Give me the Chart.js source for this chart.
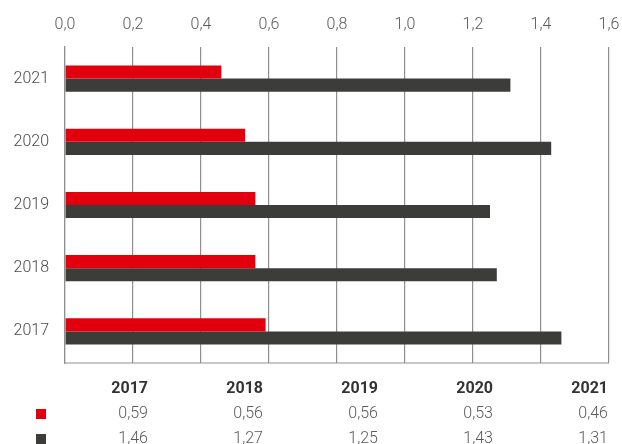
<!DOCTYPE html>
<html>
<head>
  <meta charset="utf-8" />
  <title>Kennzahl 2017–2021</title>
  <script src="https://cdn.jsdelivr.net/npm/chart.js"></script>
  <style>
    html, body { margin: 0; padding: 0; background: #fff; }
    #wrap { position: relative; width: 622px; height: 444px; overflow: hidden; }
    #chart { position: absolute; left: 0; top: 0; }
    #values { position: absolute; left: 0; top: 375px; border-collapse: collapse; table-layout: fixed;
      font-family: Roboto, "Liberation Sans", sans-serif; font-size: 16px; color: #5a5a5a; }
    #values td, #values th { padding: 0; height: 25px; line-height: 25px; text-align: right; }
    #values th { font-weight: 700; color: #333; }
    #values td { font-weight: 300; }
    .mark { display: inline-block; width: 10px; height: 10px; margin-left: 36px; vertical-align: middle; }
  </style>
</head>
<body>
<div id="wrap">
  <canvas id="chart" width="622" height="444"></canvas>
  <table id="values"></table>
</div>
<script>
const years = ['2017', '2018', '2019', '2020', '2021'];
const redValues = [0.59, 0.56, 0.56, 0.53, 0.46];
const greyValues = [1.46, 1.27, 1.25, 1.43, 1.31];
const xTicks = [0, 0.2, 0.4, 0.6, 0.8, 1.0, 1.2, 1.4, 1.6];

const RED = '#e2000f';
const GREY = '#3c3c3b';
const GRID = '#8f8f8f';
const FONT = 'Roboto, "Liberation Sans", sans-serif';

const fmt = (v, d) => v.toFixed(d).replace('.', ',');

// bottom edge of the plot area
const bottomLine = {
  id: 'bottomLine',
  afterDraw(chart) {
    const { ctx, chartArea } = chart;
    ctx.save();
    ctx.strokeStyle = GRID;
    ctx.lineWidth = 1.2;
    ctx.beginPath();
    ctx.moveTo(chartArea.left, chartArea.bottom);
    ctx.lineTo(chartArea.right, chartArea.bottom);
    ctx.stroke();
    ctx.restore();
  }
};

new Chart(document.getElementById('chart'), {
  type: 'bar',
  data: {
    labels: years.slice().reverse(),
    datasets: [
      { data: redValues.slice().reverse(), backgroundColor: RED },
      { data: greyValues.slice().reverse(), backgroundColor: GREY }
    ]
  },
  options: {
    indexAxis: 'y',
    responsive: false,
    animation: false,
    datasets: { bar: { categoryPercentage: 0.415, barPercentage: 1 } },
    layout: { padding: { left: 0, top: 0, right: 13, bottom: 81 } },
    plugins: { legend: { display: false }, tooltip: { enabled: false } },
    scales: {
      x: {
        position: 'top',
        min: 0,
        max: 1.6,
        afterFit: s => { s.height = 47; s.paddingLeft = 0; s.paddingRight = 0; },
        afterBuildTicks: s => { s.ticks = xTicks.map(v => ({ value: v })); },
        ticks: {
          padding: 12,
          color: '#5a5a5a',
          font: { family: FONT, size: 16, weight: 300 },
          callback: v => fmt(v, 1)
        },
        grid: { color: GRID, lineWidth: 1.2, drawTicks: false },
        border: { display: false }
      },
      y: {
        afterFit: s => { s.width = 65; },
        ticks: {
          padding: 16,
          color: '#4a4a4a',
          font: { family: FONT, size: 16, weight: 300 }
        },
        grid: { display: false, drawTicks: false },
        border: { display: true, color: GRID, width: 1.2 }
      }
    }
  },
  plugins: [bottomLine]
});

// value table under the chart
const table = document.getElementById('values');
const colWidths = [48, 100, 115, 115, 115, 115];
table.innerHTML =
  '<colgroup>' + colWidths.map(w => `<col style="width:${w}px">`).join('') + '</colgroup>' +
  '<tr><th></th>' + years.map(y => `<th>${y}</th>`).join('') + '</tr>' +
  `<tr><td style="text-align:left"><span class="mark" style="background:${RED}"></span></td>` +
    redValues.map(v => `<td>${fmt(v, 2)}</td>`).join('') + '</tr>' +
  `<tr><td style="text-align:left"><span class="mark" style="background:${GREY}"></span></td>` +
    greyValues.map(v => `<td>${fmt(v, 2)}</td>`).join('') + '</tr>';
</script>
</body>
</html>
